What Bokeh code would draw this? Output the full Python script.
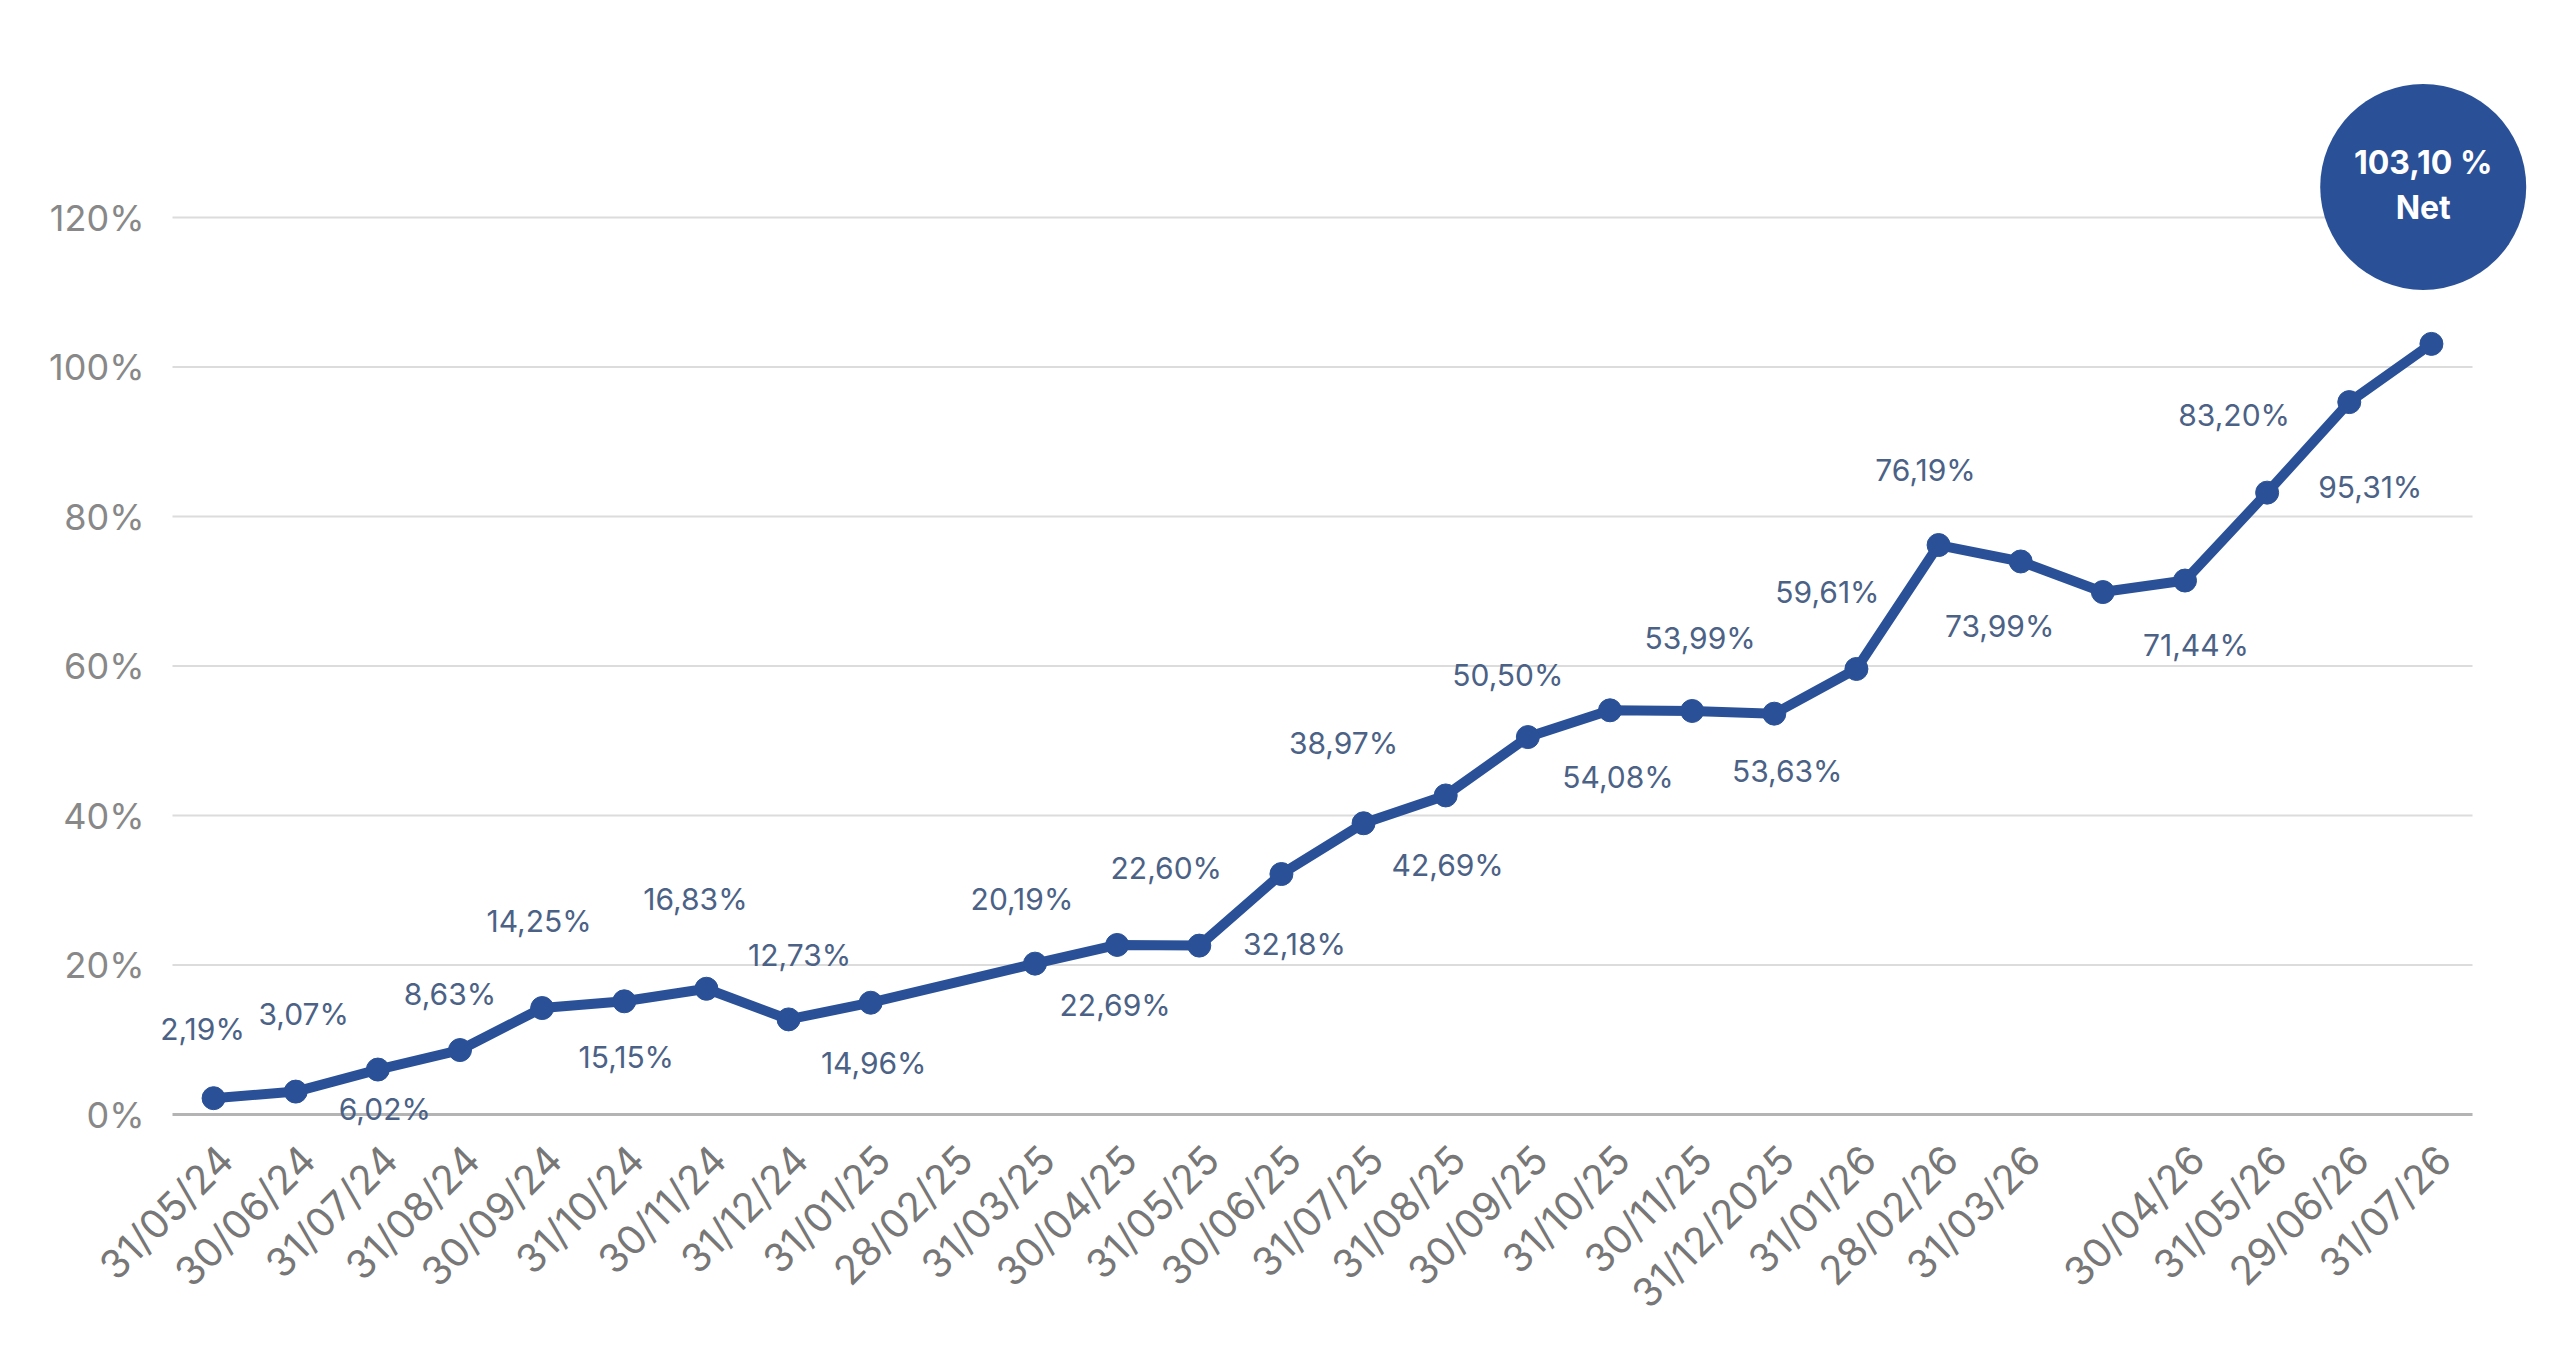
import math
from bokeh.plotting import figure
from bokeh.models import ColumnDataSource, FixedTicker, Range1d
from bokeh.core.properties import value
from bokeh.embed import file_html
from bokeh.resources import INLINE

# month-end dates (one slot has no label in the original)
dates = ["31/05/24", "30/06/24", "31/07/24", "31/08/24", "30/09/24", "31/10/24",
         "30/11/24", "31/12/24", "31/01/25", "28/02/25", "31/03/25", "30/04/25",
         "31/05/25", "30/06/25", "31/07/25", "31/08/25", "30/09/25", "31/10/25",
         "30/11/25", "31/12/2025", "31/01/26", "28/02/26", "31/03/26", "",
         "30/04/26", "31/05/26", "29/06/26", "31/07/26"]

# cumulative net performance, %
net = [2.19, 3.07, 6.02, 8.63, 14.25, 15.15, 16.83, 12.73, 14.96, None, 20.19, 22.69,
       22.60, 32.18, 38.97, 42.69, 50.50, 54.08, 53.99, 53.63, 59.61, 76.19, 73.99, 69.9,
       71.44, 83.20, 95.31, 103.10]

# which points carry a value label (last one goes in the bubble)
labelled = [True] * 23 + [False] + [True] * 3 + [False]
labelled[9] = False

y_ticks = [0, 20, 40, 60, 80, 100, 120]

# label offsets in screen px (dx, dy)
label_dx = [-11, 8, 7, -10, -3, 2, -11, 11, 3, 0, -13, -2, -33, 13, -20, 2, -20, 8, 8, 13,
            -29, -13, -21, 0, 11, -33, 21, 0]
label_dy = [-69, -78, 39, -56, -87, 56, -90, -64, 60, 0, -65, 60, -78, 70, -80, 70, -62, 67,
            -73, 57, -77, -75, 65, 0, 64, -78, 85, 0]

BLUE = "#2a5198"
LABEL_BLUE = "#4b6286"

n = len(dates)
idx = [i for i in range(n) if net[i] is not None]
pts = ColumnDataSource(dict(x=idx, y=[net[i] for i in idx]))

lab_idx = [i for i in range(n) if labelled[i]]
labels = ColumnDataSource(dict(
    x=lab_idx,
    y=[net[i] for i in lab_idx],
    text=[f"{net[i]:.2f}".replace(".", ",") + "%" for i in lab_idx],
    dx=[label_dx[i] for i in lab_idx],
    dy=[label_dy[i] for i in lab_idx],
))

ppx = 2300 / n          # px per category
ppy = 149.5 / 20        # px per percent
left = 152              # frame left edge, page px
x0 = -0.5 - (172 - left) / ppx
y0 = -2
fw, fh = 2560 - left, 1121

p = figure(frame_width=fw, frame_height=fh,
           x_range=Range1d(x0, x0 + fw / ppx), y_range=Range1d(y0, y0 + fh / ppy),
           output_backend="svg", toolbar_location=None,
           min_border_left=left, min_border_right=0, min_border_top=8, min_border_bottom=200)
p.outline_line_color = None
p.background_fill_color = "white"
p.border_fill_color = "white"
p.xgrid.visible = False
p.ygrid.visible = False

# horizontal grid lines, limited to the category span
grid_y = [t for t in y_ticks if t > 0]
p.segment(x0=[-0.5] * len(grid_y), x1=[n - 0.5] * len(grid_y), y0=grid_y, y1=grid_y,
          line_color="#dcdcdc", line_width=2)
p.segment(x0=[-0.5], x1=[n - 0.5], y0=[0], y1=[0], line_color="#b4b4b4", line_width=3)

p.line("x", "y", source=pts, line_color=BLUE, line_width=10, line_join="round")
p.scatter("x", "y", source=pts, size=23, fill_color=BLUE, line_color=BLUE)

p.text("x", "y", text="text", source=labels, x_offset="dx", y_offset="dy",
       text_font=value("Inter"), text_font_size="30px", text_color=LABEL_BLUE,
       text_align="center", text_baseline="middle")

# bubble with the final figure
last = n - 1
bx, by = [last - 0.1], [net[last] + 21]
p.scatter(bx, by, size=206, fill_color=BLUE, line_color=None)
final_txt = f"{net[last]:.2f}".replace(".", ",") + " %"
p.text(bx, by, text=[final_txt], y_offset=-24, text_font=value("Inter"),
       text_font_size="32px", text_font_style="bold", text_color="white",
       text_align="center", text_baseline="middle")
p.text(bx, by, text=["Net"], y_offset=21, text_font=value("Inter"),
       text_font_size="32px", text_font_style="bold", text_color="white",
       text_align="center", text_baseline="middle")

# axes
p.yaxis.ticker = FixedTicker(ticks=y_ticks)
p.yaxis.major_label_overrides = {t: f"{t}%" for t in y_ticks}
p.yaxis.axis_line_color = None
p.yaxis.major_tick_line_color = None
p.yaxis.minor_tick_line_color = None
p.yaxis.major_label_standoff = 2
p.yaxis.major_label_text_font = "Inter"
p.yaxis.major_label_text_font_size = "36px"
p.yaxis.major_label_text_color = "#888888"

# rotated date labels sit slightly right of their point
shift = 0.15
x_ticks = [i + shift for i in range(n) if dates[i]]
p.xaxis.ticker = FixedTicker(ticks=x_ticks)
p.xaxis.major_label_overrides = {i + shift: d for i, d in enumerate(dates) if d}
p.xaxis.major_label_orientation = math.pi / 4
p.xaxis.axis_line_color = None
p.xaxis.major_tick_line_color = None
p.xaxis.minor_tick_line_color = None
p.xaxis.major_label_standoff = 17
p.xaxis.major_label_text_font = "Inter"
p.xaxis.major_label_text_font_size = "40px"
p.xaxis.major_label_text_color = "#777777"

open("out.html", "w").write(file_html(p, INLINE))
